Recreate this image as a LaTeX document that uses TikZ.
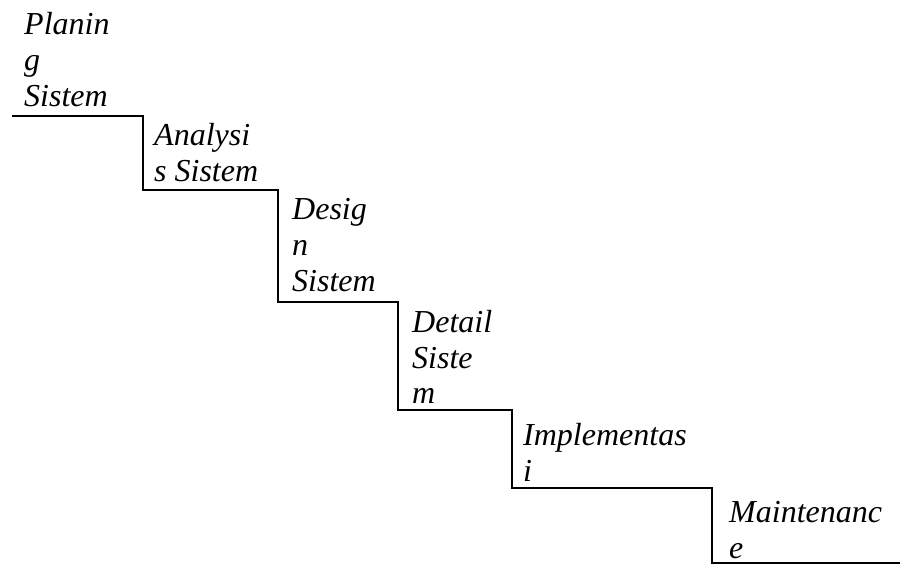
\documentclass[tikz,border=0pt]{standalone}
\usepackage{fontspec}
\setmainfont{Liberation Serif}[ItalicFont={Liberation Serif Italic}]
\begin{document}
\begin{tikzpicture}[x=1pt,y=-1pt,
  stair/.style={line width=2.2pt,line join=miter},
  lbl/.style={anchor=base west,inner sep=0pt,font=\fontsize{32}{36}\selectfont\itshape}]
\useasboundingbox (0,0) rectangle (903,564);
\newcommand{\lines}[1]{\vtop{\baselineskip=36pt #1}}
\draw[stair] (12,116) -- (143,116) -- (143,190) -- (278,190) -- (278,302) -- (398,302)
  -- (398,410) -- (512,410) -- (512,488) -- (712,488) -- (712,563) -- (900,563);
\node[lbl] (plan) at (24,35) {\lines{\hbox{Planin}\hbox{g}\hbox{Sistem}}};
\node[lbl] (anal) at (154,146) {\lines{\hbox{Analysi}\hbox{s Sistem}}};
\node[lbl] (desg) at (292,220) {\lines{\hbox{Desig}\hbox{n}\hbox{Sistem}}};
\node[lbl] (detl) at (412,332) {\lines{\hbox{Detail}\hbox{Siste}\hbox{m}}};
\node[lbl] (impl) at (523,445) {\lines{\hbox{Implementas}\hbox{i}}};
\node[lbl] (main) at (729,522) {\lines{\hbox{Maintenanc}\hbox{e}}};
\end{tikzpicture}
\end{document}
